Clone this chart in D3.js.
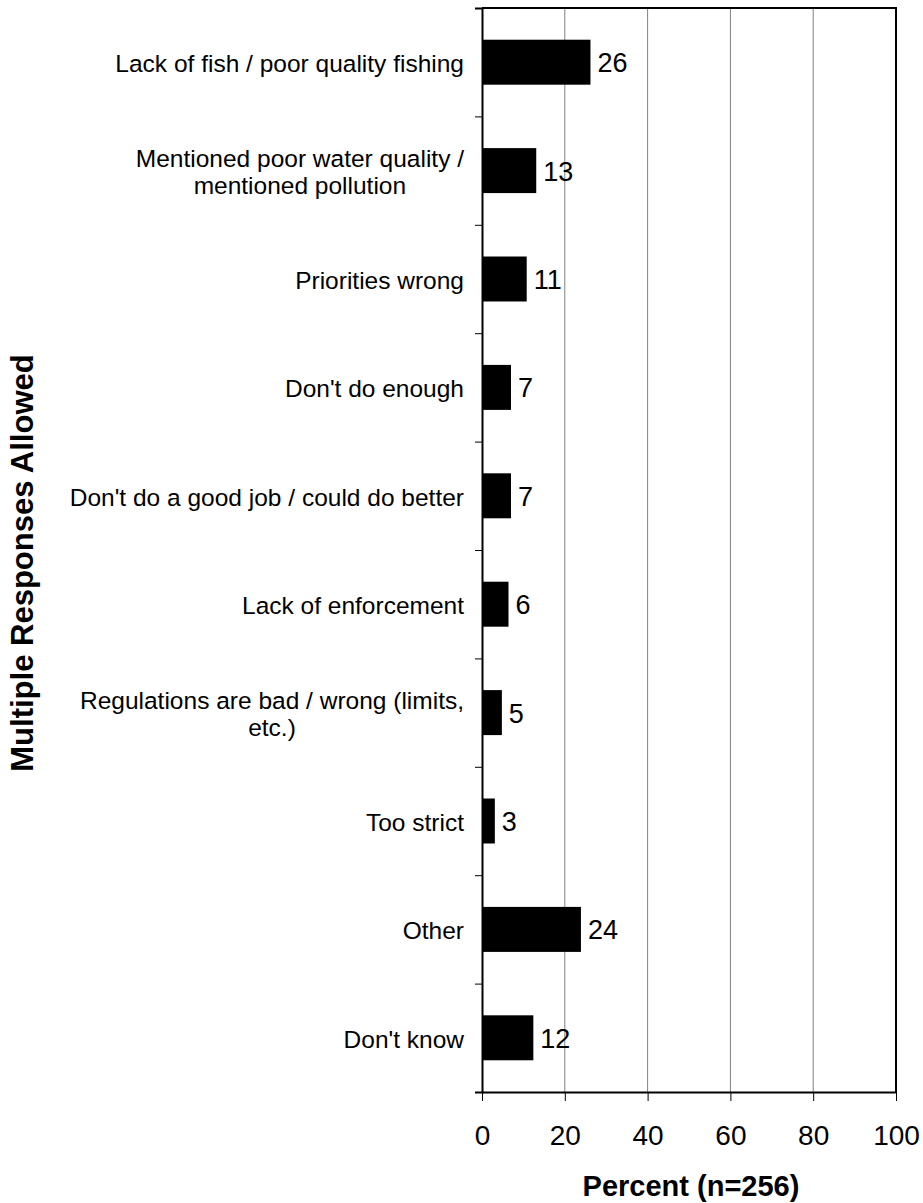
<!DOCTYPE html>
<html>
<head>
<meta charset="utf-8">
<script src="https://cdn.jsdelivr.net/npm/d3@7"></script>
<style>
  html, body { margin: 0; padding: 0; background: #fff; }
  svg { display: block; font-family: Arial, "Liberation Sans", sans-serif; }
</style>
</head>
<body>
<div id="chart"></div>
<script>
const categories = [
  ["Lack of fish / poor quality fishing"],
  ["Mentioned poor water quality /", "mentioned pollution"],
  ["Priorities wrong"],
  ["Don't do enough"],
  ["Don't do a good job / could do better"],
  ["Lack of enforcement"],
  ["Regulations are bad / wrong (limits,", "etc.)"],
  ["Too strict"],
  ["Other"],
  ["Don't know"]
];
const percents = [26.2, 13.1, 10.8, 7.0, 7.0, 6.4, 4.8, 3.1, 23.9, 12.4];
const xTicks = [0, 20, 40, 60, 80, 100];
const xTitle = "Percent (n=256)";
const yTitle = "Multiple Responses Allowed";

const W = 923, H = 1203;
const plot = { left: 482, right: 896, top: 8, bottom: 1092 };

const svg = d3.select("#chart").append("svg")
  .attr("width", W)
  .attr("height", H);

const x = d3.scaleLinear().domain([0, 100]).range([plot.left, plot.right]);

const y = d3.scaleBand()
  .domain(d3.range(categories.length))
  .range([plot.top, plot.bottom])
  .paddingInner(0.585)
  .paddingOuter(0.2925);

const yEdge = d3.scaleLinear().domain([0, categories.length]).range([plot.top, plot.bottom]);
const center = i => y(i) + y.bandwidth() / 2;

// vertical gridlines
svg.append("g")
  .selectAll("line")
  .data(xTicks.filter(t => t > 0 && t < 100))
  .enter().append("line")
  .attr("x1", d => x(d)).attr("x2", d => x(d))
  .attr("y1", plot.top).attr("y2", plot.bottom)
  .attr("stroke", "#808080")
  .attr("stroke-width", 1);

// top and right border
svg.append("path")
  .attr("d", `M${plot.left},${plot.top}H${plot.right}V${plot.bottom}`)
  .attr("fill", "none")
  .attr("stroke", "#000")
  .attr("stroke-width", 2);

// bars
svg.append("g")
  .selectAll("rect")
  .data(percents)
  .enter().append("rect")
  .attr("x", x(0))
  .attr("y", (d, i) => y(i))
  .attr("width", d => x(d) - x(0))
  .attr("height", y.bandwidth())
  .attr("fill", "#000");

// value labels
svg.append("g")
  .selectAll("text")
  .data(percents)
  .enter().append("text")
  .attr("x", d => x(d) + 7)
  .attr("y", (d, i) => center(i) + 10)
  .attr("font-size", "27px")
  .attr("fill", "#000")
  .text(d => Math.round(d));

// y axis
const yAxis = svg.append("g")
  .attr("transform", `translate(${plot.left},0)`)
  .call(d3.axisLeft(yEdge).ticks(categories.length).tickSize(7).tickFormat(""));
yAxis.select(".domain").attr("stroke-width", 2);
yAxis.selectAll(".tick line").attr("stroke-width", 1);

// x axis
const xAxis = svg.append("g")
  .attr("transform", `translate(0,${plot.bottom})`)
  .call(d3.axisBottom(x).tickValues(xTicks).tickSize(9).tickSizeOuter(0).tickPadding(0));
xAxis.select(".domain").attr("stroke-width", 2);
xAxis.selectAll(".tick text")
  .attr("y", 53)
  .attr("dy", null)
  .attr("font-size", "28px")
  .attr("font-family", "Arial, 'Liberation Sans', sans-serif")
  .attr("fill", "#000");

// category labels
const labelRight = 464;
const lineGap = 27;
const catG = svg.append("g");
categories.forEach((lines, i) => {
  const t = catG.append("text")
    .attr("font-size", "24.5px")
    .attr("fill", "#000");
  const spans = lines.map((ln, j) => t.append("tspan")
    .attr("y", center(i) + 10 + (j - (lines.length - 1) / 2) * lineGap)
    .text(ln));
  if (lines.length === 1) {
    t.attr("text-anchor", "end");
    spans[0].attr("x", labelRight);
  } else {
    const maxW = d3.max(spans, s => s.node().getComputedTextLength());
    t.attr("text-anchor", "middle");
    spans.forEach(s => s.attr("x", labelRight - maxW / 2));
  }
});

// axis titles
svg.append("text")
  .attr("x", 691)
  .attr("y", 1196)
  .attr("text-anchor", "middle")
  .attr("font-size", "29px")
  .attr("font-weight", "bold")
  .text(xTitle);

svg.append("text")
  .attr("transform", "translate(33,563) rotate(-90)")
  .attr("text-anchor", "middle")
  .attr("font-size", "31px")
  .attr("font-weight", "bold")
  .text(yTitle);
</script>
</body>
</html>
